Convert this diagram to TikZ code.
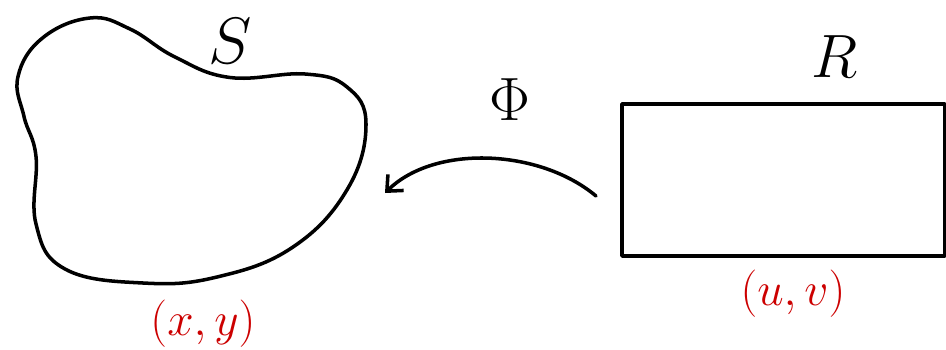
\documentclass[tikz,border=0pt]{standalone}
\usetikzlibrary{arrows.meta}
\definecolor{penred}{RGB}{204,0,0}
\begin{document}
\begin{tikzpicture}[line width=2pt, line cap=round, line join=round]
    \useasboundingbox (0,0) rectangle (18.92,6.98);

    % Region S (blob)
    \draw plot[smooth cycle, tension=0.7] coordinates {
        (1.8,6.62) (0.85,6.22) (0.36,5.45) (0.48,4.65)
        (0.72,3.85) (0.72,2.5) (1.3,1.6) (2.86,1.32)
        (4.34,1.44) (5.86,2.04) (6.95,3.2) (7.32,4.5)
        (6.94,5.24) (6.1,5.5) (4.6,5.43) (3.5,5.84) (2.6,6.4)};
    \node[scale=1.5] (labS) at (4.6,6.15) {\Huge $S$};
    \node[penred, scale=1.3] (xy) at (4.06,0.5) {\huge $(x,y)$};

    % Region R (rectangle)
    \node[draw, minimum width=6.46cm, minimum height=3.04cm] (rect) at (15.67,3.38) {};
    \node[scale=1.4] (labR) at (16.7,5.85) {\Huge $R$};
    \node[penred, scale=1.3] (uv) at (15.86,1.1) {\huge $(u,v)$};

    % Map Phi from R to S
    \coordinate (phiStart) at (11.92,3.06);
    \coordinate (phiEnd) at (7.7,3.12);
    \draw[-{Straight Barb[length=2.5mm,width=4.5mm]}] (phiStart) .. controls (10.8,4.0) and (8.7,4.1) .. (phiEnd);
    \node[scale=1.4] (phi) at (10.2,4.98) {\Huge $\Phi$};
\end{tikzpicture}
\end{document}
